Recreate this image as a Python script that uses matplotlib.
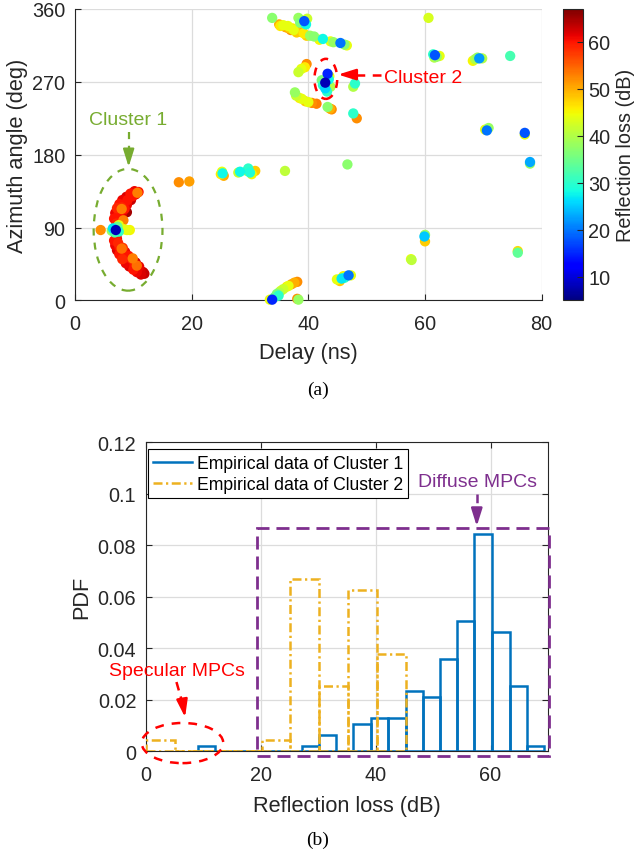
import matplotlib
matplotlib.use('Agg')
import matplotlib.pyplot as plt
from matplotlib.patches import Ellipse, Rectangle
from matplotlib.lines import Line2D
import numpy as np

plt.rcParams['font.family'] = ['Liberation Sans', 'DejaVu Sans']
plt.rcParams['font.size'] = 14

# ---------------- Panel (a) data: MPCs (delay ns, azimuth deg, reflection loss dB)
c1_delay = [10.9, 10.4, 9.9, 9.4, 9.0, 8.6, 8.3, 8.0, 7.7, 7.5, 7.3, 7.2, 7.1,
            9.6, 8.9, 8.5, 8.1, 7.8,
            10.2, 9.5, 8.8, 8.1, 7.6, 7.2, 6.9, 6.7,
            7.1, 7.2, 7.4, 7.6, 7.9, 8.3, 8.7, 9.2, 9.7, 10.2, 10.7, 11.2, 11.7,
            8.2, 8.6, 9.2, 9.8, 10.4, 11.0,
            6.7, 6.9, 7.2, 7.6, 8.1, 8.7, 9.3, 10.0, 10.6, 11.3, 11.9,
            8.0, 8.3, 8.0, 9.9, 10.6, 10.7, 8.9, 10.9,
            7.0, 6.5, 7.5, 6.8, 7.3, 6.3, 8.9, 9.4, 8.4, 7.5, 4.4, 7.9]
c1_az = [134, 131, 129, 127, 124, 121, 118, 115, 111, 107, 103, 99, 95,
         124, 118, 113, 108, 103,
         135, 132, 128, 124, 119, 114, 108, 101,
         80, 76, 71, 66, 61, 57, 53, 49, 46, 43, 40, 37, 35,
         65, 60, 55, 51, 47, 42,
         74, 68, 62, 57, 51, 46, 42, 38, 35, 32, 33,
         113, 99, 64, 52, 43, 133, 109, 37,
         87, 89, 85, 84, 91, 86, 87, 87, 88, 93, 87, 92]
c1_loss = [60, 61, 60, 62, 60, 61, 60, 59, 61, 60, 62, 60, 59,
           63, 61, 60, 62, 61,
           61, 60, 62, 61, 60, 59, 61, 60,
           60, 61, 59, 60, 62, 61, 60, 61, 62, 60, 61, 62, 63,
           58, 61, 60, 59, 62, 61,
           60, 61, 62, 60, 59, 61, 62, 60, 61, 62, 63,
           53, 53, 54, 53, 54, 53, 65, 65,
           8, 27, 30, 33, 35, 38, 44, 45, 44, 44, 52, 53]

other_delay = [17.8, 19.6,
               25.3, 25.0, 25.5, 25.2,
               28.3, 29.7, 30.0, 28.0, 29.5, 30.9, 30.3,
               36.0, 46.7, 78.0, 78.0,
               33.8, 35.7, 35.2, 36.3, 36.9, 37.5, 38.1, 38.6, 39.2, 39.7, 40.3, 41.0,
               42.5, 41.9, 43.8, 44.3, 45.5, 46.2, 46.6,
               35.0, 36.0, 37.0, 38.0, 36.5, 37.3,
               38.3, 38.7, 39.3, 39.6, 38.6, 39.8,
               38.3, 38.8, 39.4, 39.7,
               43.3, 42.9, 42.9, 42.5, 43.5, 43.6, 42.3, 43.2, 43.8,
               48.0, 47.7,
               37.7, 37.9, 38.5, 38.9, 39.5, 40.0, 40.6, 41.4,
               43.3, 44.0, 43.7, 47.7, 48.3,
               60.6, 61.7, 61.4, 62.0, 62.5, 61.6,
               68.6, 68.2, 69.3, 69.8, 69.0, 74.6,
               70.9, 70.6, 70.3, 77.1, 77.1,
               59.9, 60.0, 60.0, 57.7, 57.6, 75.9, 75.9,
               44.9, 45.4, 45.7, 46.2, 46.9, 47.3, 46.0,
               33.8, 33.4, 34.2, 34.6, 35.0, 35.7, 36.3, 37.1, 37.6, 38.1, 38.3, 38.1,
               34.9, 35.3, 36.6]
other_az = [146, 147,
            157, 156, 154, 159,
            159, 163, 158, 158, 160, 160, 156,
            160, 168, 171, 169,
            349, 340, 339, 337, 336, 334, 333, 332, 330, 327, 327, 326,
            323, 322, 320, 319, 318, 316, 315,
            341, 338, 334, 331, 339, 336,
            349, 346, 345, 341, 343, 348,
            282, 286, 288, 292,
            280, 269, 262, 266, 273, 277, 272, 258, 264,
            268, 264,
            257, 253, 250, 249, 246, 245, 244, 243,
            239, 236, 237, 231, 225,
            349, 303, 304, 301, 302, 300,
            298, 296, 299, 299, 300, 302,
            213, 210, 211, 207, 205,
            79, 73, 81, 50, 51, 61, 59,
            26, 24, 27, 28, 31, 31, 30,
            1, 1, 4, 8, 10, 14, 17, 20, 22, 23, 1, 2,
            6, 12, 18]
other_loss = [52, 51,
              28, 46, 50, 44,
              28, 30, 29, 42, 40, 48, 45,
              41, 37, 23, 38,
              37, 44, 46, 50, 48, 44, 51, 50, 46, 48, 38, 37,
              28, 45, 44, 38, 20, 37, 44,
              50, 52, 52, 48, 44, 46,
              38, 44, 18, 28, 36, 42,
              42, 44, 46, 52,
              15, 8, 26, 30, 28, 44, 36, 30, 40,
              30, 40,
              38, 42, 46, 44, 48, 44, 52, 53,
              37, 52, 50, 30, 52,
              43, 18, 30, 38, 44, 40,
              40, 45, 22, 40, 38, 32,
              38, 20, 44, 18, 44,
              25, 48, 38, 41, 44, 47, 34,
              44, 48, 27, 30, 20, 44, 45,
              15, 44, 35, 36, 40, 42, 46, 51, 50, 52, 38, 52,
              30, 44, 44]

# ---------------- Panel (b) data: PDF histograms
c1_bin_edges = [9.0, 12.0, 15.0, 18.0, 21.1, 24.1, 27.1, 30.1, 33.1, 36.1, 39.2,
                42.2, 45.2, 48.2, 51.2, 54.2, 57.2, 60.3, 63.3, 66.3, 69.3]
c1_pdf = [0.0021, 0, 0, 0, 0, 0, 0.0021, 0.0062, 0, 0.0104, 0.0127, 0.0127,
          0.0233, 0.0211, 0.0357, 0.0504, 0.0841, 0.0462, 0.0252, 0.0021]
c2_bin_edges = [0.0, 5.03, 10.06, 15.09, 20.12, 25.15, 30.18, 35.21, 40.24, 45.27]
c2_pdf = [0.0043, 0, 0, 0, 0.0043, 0.0667, 0.0251, 0.0627, 0.0377]

legend_labels = ['Empirical data of Cluster 1', 'Empirical data of Cluster 2']

# ---------------- styling
dark = (0.15, 0.15, 0.15)
gridc = '#dcdcdc'
blue = (0.0, 0.447, 0.741)
orange = (0.929, 0.694, 0.125)
green = (0.466, 0.674, 0.188)
purple = (0.494, 0.184, 0.556)
red = (1.0, 0.0, 0.0)
TICK_FS = 14.3
LABEL_FS = 15.7

fig = plt.figure(figsize=(6.36, 8.54), dpi=100)
axa = fig.add_axes([0.1179, 0.6470, 0.7338, 0.3413])
cax = fig.add_axes([0.8847, 0.6470, 0.0324, 0.3413])
axb = fig.add_axes([0.2296, 0.1194, 0.632, 0.3618])

# ---------------- Panel (a)
d = np.array(c1_delay + other_delay, float)
a = np.array(c1_az + other_az, float)
l = np.array(c1_loss + other_loss, float)
order = np.argsort(-l, kind='stable')
sc = axa.scatter(d[order], a[order], c=l[order], cmap='jet', vmin=5, vmax=67,
                 s=55, edgecolors='none', clip_on=False, zorder=3)
axa.set_xlim(0, 80)
axa.set_ylim(0, 360)
axa.set_xticks([0, 20, 40, 60, 80])
axa.set_yticks([0, 90, 180, 270, 360])
axa.grid(True, color=gridc, lw=0.9)
axa.set_axisbelow(True)
for s in ['top', 'right']:
    axa.spines[s].set_visible(False)
for s in ['left', 'bottom']:
    axa.spines[s].set_color(dark)
axa.tick_params(direction='in', length=4, colors=dark, labelsize=TICK_FS)
axa.tick_params(axis='x', pad=10)
axa.tick_params(axis='y', pad=7)
axa.set_xlabel('Delay (ns)', color=dark, fontsize=LABEL_FS, labelpad=6)
axa.set_ylabel('Azimuth angle (deg)', color=dark, fontsize=LABEL_FS, labelpad=3)

cb = fig.colorbar(sc, cax=cax)
cb.set_ticks([10, 20, 30, 40, 50, 60])
cb.ax.tick_params(direction='in', length=4, colors=dark, labelsize=TICK_FS)
cb.outline.set_edgecolor(dark)
cb.set_label('Reflection loss (dB)', color=dark, fontsize=14.3, labelpad=4)

# cluster annotations
axa.add_patch(Ellipse((9.1, 87.3), 11.8, 150.4, fill=False, ec=green, lw=1.6,
                      ls=(0, (3.2, 3.2)), zorder=4))
axa.text(9.1, 224, 'Cluster 1', color=green, fontsize=14, ha='center', va='center')
axa.plot([9.2, 9.2], [208, 184], color=green, lw=1.6, ls=(0, (3.2, 3.0)), zorder=4)
axa.annotate('', xy=(9.2, 165), xytext=(9.2, 184),
             arrowprops=dict(arrowstyle='-|>,head_length=0.7,head_width=0.22',
                             mutation_scale=15, color=green, lw=1.6,
                             shrinkA=0, shrinkB=0), zorder=4)

axa.add_patch(Ellipse((43.0, 273.7), 3.9, 49.5, fill=False, ec=red, lw=1.8,
                      ls=(0, (3.2, 3.2)), zorder=4))
axa.text(53.0, 276, 'Cluster 2', color=red, fontsize=14, ha='left', va='center')
axa.plot([52.4, 47.5], [279, 279], color=red, lw=1.8, ls=(0, (3.5, 3.0)), zorder=4)
axa.annotate('', xy=(45.1, 279), xytext=(47.6, 279),
             arrowprops=dict(arrowstyle='-|>,head_length=0.7,head_width=0.22',
                             mutation_scale=15, color=red, lw=1.8,
                             shrinkA=0, shrinkB=0), zorder=4)

# ---------------- Panel (b)
w1 = np.diff(c1_bin_edges)
w2 = np.diff(c2_bin_edges)
axb.bar(c1_bin_edges[:-1], c1_pdf, width=w1, align='edge', fill=False,
        edgecolor=blue, linewidth=1.8, zorder=3)
axb.bar(c2_bin_edges[:-1], c2_pdf, width=w2, align='edge', fill=False,
        edgecolor=orange, linewidth=1.8, linestyle=(0, (3.6, 1.4, 0.9, 1.4)), zorder=4)
axb.set_xlim(0, 70)
axb.set_ylim(0, 0.12)
axb.set_xticks([0, 20, 40, 60])
yt = [0, 0.02, 0.04, 0.06, 0.08, 0.1, 0.12]
axb.set_yticks(yt)
axb.set_yticklabels(['0', '0.02', '0.04', '0.06', '0.08', '0.1', '0.12'])
axb.grid(True, color=gridc, lw=0.9)
axb.set_axisbelow(True)
for s in axb.spines.values():
    s.set_color(dark)
axb.tick_params(direction='in', length=4, colors=dark, labelsize=TICK_FS,
                top=True, right=True)
axb.tick_params(axis='x', pad=10)
axb.tick_params(axis='y', pad=7)
axb.set_xlabel('Reflection loss (dB)', color=dark, fontsize=LABEL_FS, labelpad=8)
axb.set_ylabel('PDF', color=dark, fontsize=LABEL_FS, labelpad=4)

handles = [Line2D([], [], color=blue, lw=1.8),
           Line2D([], [], color=orange, lw=1.8, ls=(0, (3.6, 1.4, 0.9, 1.4)))]
leg = axb.legend(handles, legend_labels, loc='upper left',
                 bbox_to_anchor=(0.005, 0.976), fontsize=12.7,
                 frameon=True, fancybox=False, framealpha=1, edgecolor='black',
                 borderpad=0.3, handlelength=2.2, handletextpad=0.25,
                 labelspacing=0.25, borderaxespad=0.0)
leg.get_frame().set_linewidth(0.8)
leg.set_zorder(6)

axb.add_patch(Rectangle((19.3, -0.002), 50.8, 0.0888, fill=False, ec=purple, lw=2,
                        ls=(0, (4.7, 2.5)), clip_on=False, zorder=5))
axb.text(57.7, 0.1045, 'Diffuse MPCs', color=purple, fontsize=14, ha='center', va='center')
axb.plot([57.6, 57.6], [0.0998, 0.0928], color=purple, lw=1.8, ls=(0, (3.5, 2.5)), zorder=5)
axb.annotate('', xy=(57.6, 0.0873), xytext=(57.6, 0.0930),
             arrowprops=dict(arrowstyle='-|>,head_length=0.7,head_width=0.22',
                             mutation_scale=15, color=purple, lw=1.8,
                             shrinkA=0, shrinkB=0), zorder=5)

axb.add_patch(Ellipse((6.35, 0.0031), 14.2, 0.0156, fill=False, ec=red, lw=1.8,
                      ls=(0, (3.5, 3.2)), clip_on=False, zorder=5))
axb.text(5.3, 0.0312, 'Specular MPCs', color=red, fontsize=14, ha='center', va='center')
axb.plot([5.3, 6.45], [0.0268, 0.0178], color=red, lw=1.8, ls=(0, (3.5, 2.5)), zorder=5)
axb.annotate('', xy=(6.8, 0.0131), xytext=(6.45, 0.0178),
             arrowprops=dict(arrowstyle='-|>,head_length=0.7,head_width=0.22',
                             mutation_scale=15, color=red, lw=1.8,
                             shrinkA=0, shrinkB=0), zorder=5)

# captions
fig.text(0.5, 1 - 390 / 854, '(a)', ha='center', va='center', fontsize=14,
         family=['Liberation Serif', 'DejaVu Serif'])
fig.text(0.5, 1 - 840 / 854, '(b)', ha='center', va='center', fontsize=14,
         family=['Liberation Serif', 'DejaVu Serif'])

fig.savefig('out.png', dpi=100)
